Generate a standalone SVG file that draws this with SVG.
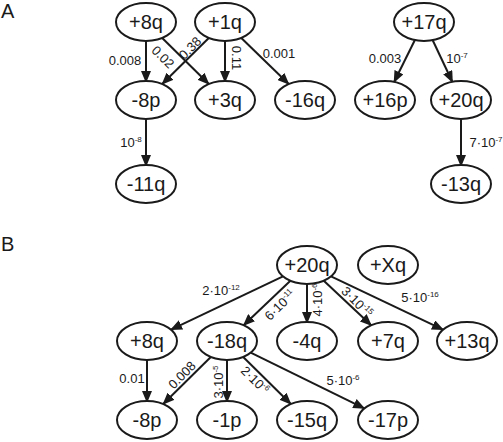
<svg xmlns="http://www.w3.org/2000/svg" width="503" height="442" viewBox="0 0 503 442">
<style>
.n ellipse{fill:#fff;stroke:#1a1a1a;stroke-width:2}
.n text{font-family:"Liberation Sans",Arial,sans-serif;font-size:20px;fill:#1a1a1a;text-anchor:middle}
.e line{stroke:#1a1a1a;stroke-width:2;marker-end:url(#ah)}
.l{font-family:"Liberation Sans",Arial,sans-serif;font-size:13px;fill:#1a1a1a;text-anchor:middle}
.s{font-size:8px}
.p{font-family:"Liberation Sans",Arial,sans-serif;font-size:20px;fill:#1a1a1a}
</style>
<defs>
<marker id="ah" markerUnits="userSpaceOnUse" markerWidth="12" markerHeight="10" refX="11" refY="5" orient="auto">
<path d="M0,0 L12,5 L0,10 Z" fill="#1a1a1a"/>
</marker>
</defs>
<rect width="503" height="442" fill="#fff"/>
<text class="p" x="1" y="18">A</text>
<text class="p" x="1" y="251">B</text>
<g class="e" id="edges">
<line x1="146" y1="41" x2="146" y2="82"/>
<line x1="162.2" y1="38" x2="208.8" y2="84"/>
<line x1="208.8" y1="38" x2="162.2" y2="84"/>
<line x1="225" y1="41" x2="225" y2="82"/>
<line x1="241.3" y1="38" x2="288.7" y2="84"/>
<line x1="146" y1="119" x2="146" y2="166"/>
<line x1="414.9" y1="40" x2="394.1" y2="82"/>
<line x1="432.6" y1="40" x2="452.4" y2="82"/>
<line x1="461" y1="119" x2="461" y2="166"/>
<line x1="283" y1="276.4" x2="171" y2="329.6"/>
<line x1="290.4" y1="280.8" x2="243.6" y2="325.2"/>
<line x1="307" y1="284" x2="307" y2="323"/>
<line x1="323.8" y1="280.7" x2="371.2" y2="325.3"/>
<line x1="331" y1="276.4" x2="443" y2="329.6"/>
<line x1="147" y1="360" x2="147" y2="402"/>
<line x1="210.8" y1="357" x2="163.2" y2="404"/>
<line x1="227" y1="360" x2="227" y2="402"/>
<line x1="243.2" y1="357" x2="290.8" y2="404"/>
<line x1="250.7" y1="352.6" x2="364.3" y2="408.4"/>
</g>
<g id="labels">
<text class="l" x="125" y="65">0.008</text>
<text class="l" transform="translate(163,57) rotate(45)" y="4.5">0.02</text>
<text class="l" transform="translate(190,48) rotate(-45)" y="4.5">0.38</text>
<text class="l" transform="translate(236,58) rotate(90)" y="4.5">0.11</text>
<text class="l" x="279" y="58">0.001</text>
<text class="l" x="131" y="147">10<tspan class="s" dy="-5">-8</tspan></text>
<text class="l" x="385" y="63">0.003</text>
<text class="l" x="457" y="63">10<tspan class="s" dy="-5">-7</tspan></text>
<text class="l" x="486" y="147">7·10<tspan class="s" dy="-5">-7</tspan></text>
<text class="l" x="221" y="295">2·10<tspan class="s" dy="-5">-12</tspan></text>
<text class="l" transform="translate(280,305) rotate(-45)" y="4.5">6·10<tspan class="s" dy="-5">-11</tspan></text>
<text class="l" transform="translate(317,300) rotate(-90)" y="4.5">4·10<tspan class="s" dy="-5">-6</tspan></text>
<text class="l" transform="translate(357,302) rotate(45)" y="4.5">3·10<tspan class="s" dy="-5">-15</tspan></text>
<text class="l" x="420" y="302">5·10<tspan class="s" dy="-5">-16</tspan></text>
<text class="l" x="132" y="383">0.01</text>
<text class="l" transform="translate(182,375) rotate(-45)" y="4.5">0.008</text>
<text class="l" transform="translate(218,382) rotate(-90)" y="4.5">3·10<tspan class="s" dy="-5">-5</tspan></text>
<text class="l" transform="translate(255,380) rotate(45)" y="4.5">2·10<tspan class="s" dy="-5">-6</tspan></text>
<text class="l" x="343" y="385">5·10<tspan class="s" dy="-5">-6</tspan></text>
</g>
<g class="n" id="a_p8q"><ellipse cx="146" cy="22" rx="30" ry="19"/><text x="146" y="29">+8q</text></g>
<g class="n" id="a_p1q"><ellipse cx="225" cy="22" rx="30" ry="19"/><text x="225" y="29">+1q</text></g>
<g class="n" id="a_m8p"><ellipse cx="146" cy="100" rx="30" ry="19"/><text x="146" y="107">-8p</text></g>
<g class="n" id="a_p3q"><ellipse cx="225" cy="100" rx="30" ry="19"/><text x="225" y="107">+3q</text></g>
<g class="n" id="a_m16q"><ellipse cx="305" cy="100" rx="30" ry="19"/><text x="305" y="107">-16q</text></g>
<g class="n" id="a_m11q"><ellipse cx="146" cy="184" rx="30" ry="19"/><text x="146" y="191">-11q</text></g>
<g class="n" id="a_p17q"><ellipse cx="424" cy="22" rx="30" ry="19"/><text x="424" y="29">+17q</text></g>
<g class="n" id="a_p16p"><ellipse cx="385" cy="100" rx="30" ry="19"/><text x="385" y="107">+16p</text></g>
<g class="n" id="a_p20q"><ellipse cx="461" cy="100" rx="30" ry="19"/><text x="461" y="107">+20q</text></g>
<g class="n" id="a_m13q"><ellipse cx="461" cy="184" rx="30" ry="19"/><text x="461" y="191">-13q</text></g>
<g class="n" id="b_p20q"><ellipse cx="307" cy="265" rx="30" ry="19"/><text x="307" y="272">+20q</text></g>
<g class="n" id="b_pXq"><ellipse cx="388" cy="265" rx="30" ry="19"/><text x="388" y="272">+Xq</text></g>
<g class="n" id="b_p8q"><ellipse cx="147" cy="341" rx="30" ry="19"/><text x="147" y="348">+8q</text></g>
<g class="n" id="b_m18q"><ellipse cx="227" cy="341" rx="30" ry="19"/><text x="227" y="348">-18q</text></g>
<g class="n" id="b_m4q"><ellipse cx="307" cy="341" rx="30" ry="19"/><text x="307" y="348">-4q</text></g>
<g class="n" id="b_p7q"><ellipse cx="388" cy="341" rx="30" ry="19"/><text x="388" y="348">+7q</text></g>
<g class="n" id="b_p13q"><ellipse cx="467" cy="341" rx="30" ry="19"/><text x="467" y="348">+13q</text></g>
<g class="n" id="b_m8p"><ellipse cx="147" cy="420" rx="30" ry="19"/><text x="147" y="427">-8p</text></g>
<g class="n" id="b_m1p"><ellipse cx="227" cy="420" rx="30" ry="19"/><text x="227" y="427">-1p</text></g>
<g class="n" id="b_m15q"><ellipse cx="307" cy="420" rx="30" ry="19"/><text x="307" y="427">-15q</text></g>
<g class="n" id="b_m17p"><ellipse cx="388" cy="420" rx="30" ry="19"/><text x="388" y="427">-17p</text></g>
</svg>
